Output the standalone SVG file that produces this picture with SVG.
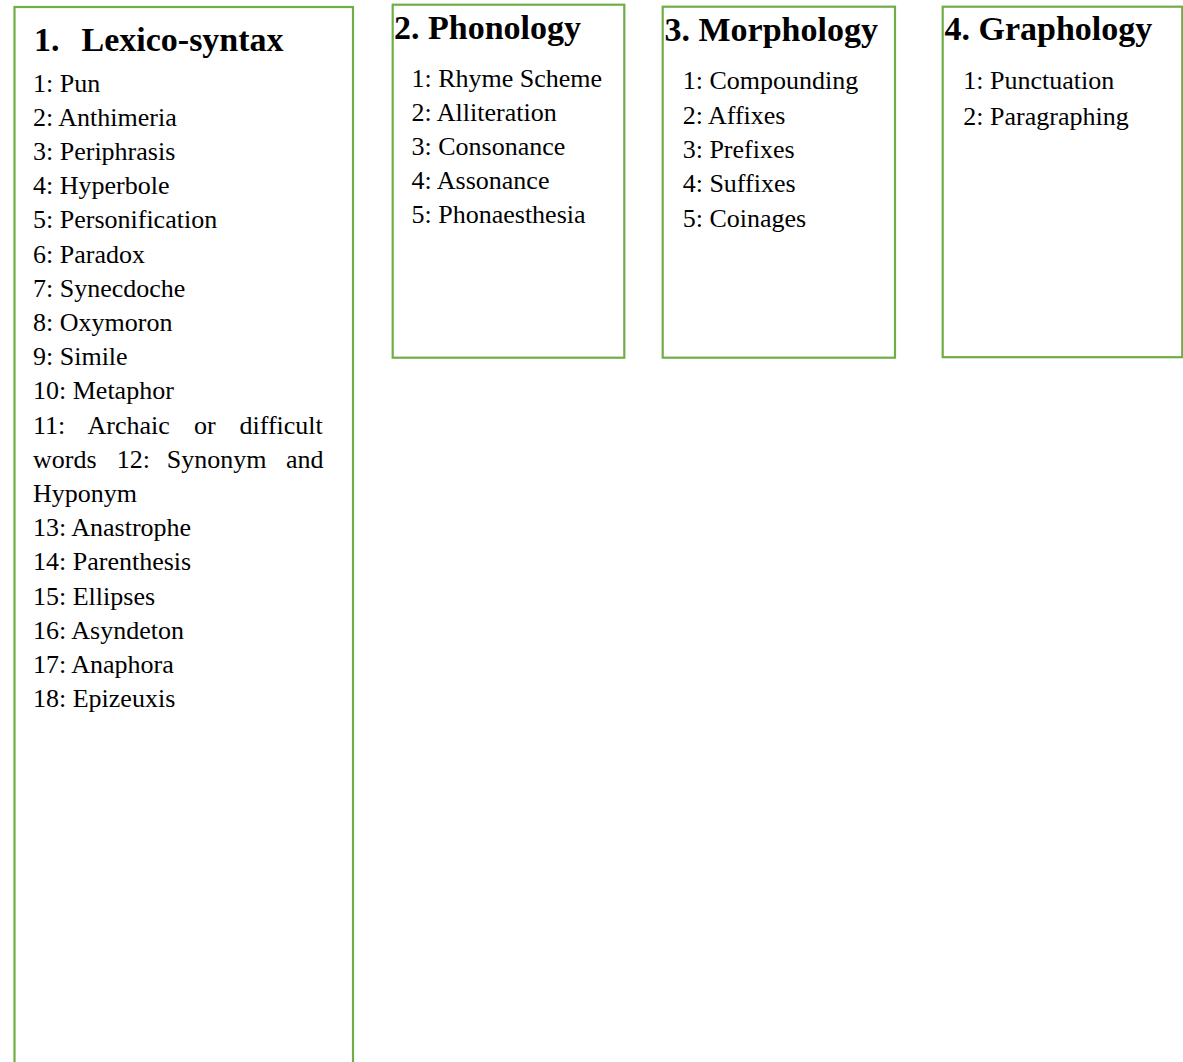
<svg xmlns="http://www.w3.org/2000/svg" width="1183" height="1062" viewBox="0 0 1183 1062">
<style>
.box{fill:#ffffff;stroke:#70AD47;stroke-width:2.2}
.title{font-family:"Liberation Serif","Times New Roman",serif;font-weight:bold;font-size:34px;fill:#000}
.item{font-family:"Liberation Serif","Times New Roman",serif;font-size:26px;fill:#000}
</style>
<rect width="1183" height="1062" fill="#ffffff"/>
<g id="connectors"></g>
<g id="node-lexico-syntax">
<rect class="box" x="14.5" y="7" width="338.5" height="1100"/>
<text class="title" x="34" y="50.5">1.</text>
<text class="title" x="81.5" y="50.5">Lexico-syntax</text>
<text class="item" x="33" y="91.5">1: Pun</text>
<text class="item" x="33" y="125.7">2: Anthimeria</text>
<text class="item" x="33" y="159.9">3: Periphrasis</text>
<text class="item" x="33" y="194.1">4: Hyperbole</text>
<text class="item" x="33" y="228.3">5: Personification</text>
<text class="item" x="33" y="262.5">6: Paradox</text>
<text class="item" x="33" y="296.7">7: Synecdoche</text>
<text class="item" x="33" y="330.9">8: Oxymoron</text>
<text class="item" x="33" y="365.1">9: Simile</text>
<text class="item" x="33" y="399.3">10: Metaphor</text>
<text class="item" y="433.5"><tspan x="33">11:</tspan><tspan x="87.5">Archaic</tspan><tspan x="194">or</tspan><tspan x="239.5">difficult</tspan></text>
<text class="item" y="467.7"><tspan x="33">words</tspan><tspan x="116.7">12:</tspan><tspan x="166.7">Synonym</tspan><tspan x="286">and</tspan></text>
<text class="item" x="33" y="501.9">Hyponym</text>
<text class="item" x="33" y="536.1">13: Anastrophe</text>
<text class="item" x="33" y="570.3">14: Parenthesis</text>
<text class="item" x="33" y="604.5">15: Ellipses</text>
<text class="item" x="33" y="638.7">16: Asyndeton</text>
<text class="item" x="33" y="672.9">17: Anaphora</text>
<text class="item" x="33" y="707.1">18: Epizeuxis</text>
</g>
<g id="node-phonology">
<rect class="box" x="392.7" y="4.7" width="231.6" height="353"/>
<text class="title" x="394" y="38.5">2. Phonology</text>
<text class="item" x="411.5" y="86.7">1: Rhyme Scheme</text>
<text class="item" x="411.5" y="120.7">2: Alliteration</text>
<text class="item" x="411.5" y="155.2">3: Consonance</text>
<text class="item" x="411.5" y="189.4">4: Assonance</text>
<text class="item" x="411.5" y="223.4">5: Phonaesthesia</text>
</g>
<g id="node-morphology">
<rect class="box" x="662.7" y="6.7" width="232.3" height="351"/>
<text class="title" x="664.5" y="40.7">3. Morphology</text>
<text class="item" x="682.7" y="89">1: Compounding</text>
<text class="item" x="682.7" y="123.5">2: Affixes</text>
<text class="item" x="682.7" y="157.5">3: Prefixes</text>
<text class="item" x="682.7" y="191.7">4: Suffixes</text>
<text class="item" x="682.7" y="226.5">5: Coinages</text>
</g>
<g id="node-graphology">
<rect class="box" x="942.7" y="6.7" width="239.5" height="350.5"/>
<text class="title" x="944.5" y="40.3">4. Graphology</text>
<text class="item" x="963.3" y="89">1: Punctuation</text>
<text class="item" x="963.3" y="124.5">2: Paragraphing</text>
</g>
</svg>
